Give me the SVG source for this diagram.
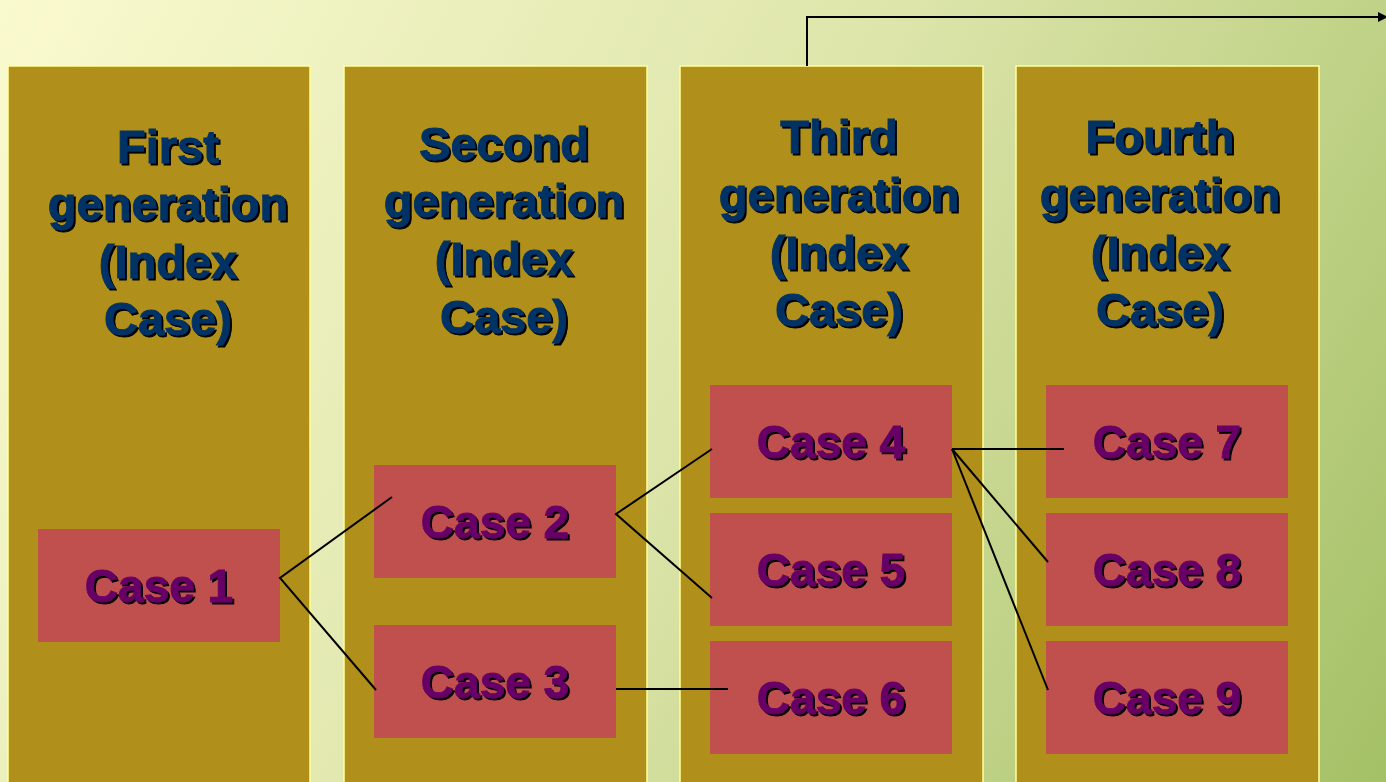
<svg xmlns="http://www.w3.org/2000/svg" width="1386" height="782" viewBox="0 0 1386 782">
  <defs>
    <linearGradient id="bg" gradientUnits="userSpaceOnUse" x1="0" y1="0" x2="1386" y2="782">
      <stop offset="0" stop-color="#FAFACF"/>
      <stop offset="0.5" stop-color="#DDE5AA"/>
      <stop offset="1" stop-color="#A4C066"/>
    </linearGradient>
    <filter id="shadow" x="-10%" y="-10%" width="130%" height="130%">
      <feDropShadow dx="2" dy="2" stdDeviation="0" flood-color="#000" flood-opacity="1"/>
    </filter>
    <marker id="arrow" markerWidth="10" markerHeight="10" refX="6" refY="5" orient="auto" markerUnits="userSpaceOnUse">
      <path d="M0,0 L10,5 L0,10 Z" fill="#000"/>
    </marker>
    <style>
      .col { fill: #B08F1A; stroke: #FFFF99; stroke-width: 1.5; }
      .box { fill: #C0504D; }
      .head { font-family: "Liberation Sans", Arial, sans-serif; font-weight: bold; font-size: 47px; fill: #003366; stroke: #003366; stroke-width: 0.9; text-anchor: middle; filter: url(#shadow); }
      .case { font-family: "Liberation Sans", Arial, sans-serif; font-weight: bold; font-size: 46px; fill: #660066; stroke: #660066; stroke-width: 0.9; text-anchor: middle; filter: url(#shadow); }
      .link { fill: none; stroke: #000; stroke-width: 2; }
    </style>
  </defs>

  <rect x="0" y="0" width="1386" height="782" fill="url(#bg)"/>

  <!-- generation columns -->
  <g id="gen1">
    <rect class="col" x="8" y="66" width="302" height="730"/>
    <text class="head" x="168" y="163">First</text>
    <text class="head" x="168" y="220">generation</text>
    <text class="head" x="168" y="278">(Index</text>
    <text class="head" x="168" y="335">Case)</text>
  </g>
  <g id="gen2">
    <rect class="col" x="344" y="66" width="303" height="730"/>
    <text class="head" x="504" y="160">Second</text>
    <text class="head" x="504" y="217">generation</text>
    <text class="head" x="504" y="275">(Index</text>
    <text class="head" x="504" y="333">Case)</text>
  </g>
  <g id="gen3">
    <rect class="col" x="680" y="66" width="303" height="730"/>
    <text class="head" x="839" y="153">Third</text>
    <text class="head" x="839" y="211">generation</text>
    <text class="head" x="839" y="269">(Index</text>
    <text class="head" x="839" y="326">Case)</text>
  </g>
  <g id="gen4">
    <rect class="col" x="1016" y="66" width="303" height="730"/>
    <text class="head" x="1160" y="153">Fourth</text>
    <text class="head" x="1160" y="211">generation</text>
    <text class="head" x="1160" y="269">(Index</text>
    <text class="head" x="1160" y="326">Case)</text>
  </g>

  <!-- cases -->
  <g id="case1"><rect class="box" x="38" y="529" width="242" height="113"/><text class="case" x="159" y="602">Case 1</text></g>
  <g id="case2"><rect class="box" x="374" y="465" width="242" height="113"/><text class="case" x="495" y="538">Case 2</text></g>
  <g id="case3"><rect class="box" x="374" y="625" width="242" height="113"/><text class="case" x="495" y="698">Case 3</text></g>
  <g id="case4"><rect class="box" x="710" y="385" width="242" height="113"/><text class="case" x="831" y="458">Case 4</text></g>
  <g id="case5"><rect class="box" x="710" y="513" width="242" height="113"/><text class="case" x="831" y="586">Case 5</text></g>
  <g id="case6"><rect class="box" x="710" y="641" width="242" height="113"/><text class="case" x="831" y="714">Case 6</text></g>
  <g id="case7"><rect class="box" x="1046" y="385" width="242" height="113"/><text class="case" x="1167" y="458">Case 7</text></g>
  <g id="case8"><rect class="box" x="1046" y="513" width="242" height="113"/><text class="case" x="1167" y="586">Case 8</text></g>
  <g id="case9"><rect class="box" x="1046" y="641" width="242" height="113"/><text class="case" x="1167" y="714">Case 9</text></g>

  <!-- transmission links -->
  <g id="connectors">
    <polyline class="link" points="392,497 280,578 376,690"/>
    <polyline class="link" points="712,449 616,514 712,598"/>
    <line class="link" x1="616" y1="689" x2="728" y2="689"/>
    <line class="link" x1="952" y1="449" x2="1064" y2="449"/>
    <line class="link" x1="952" y1="449" x2="1048" y2="562"/>
    <line class="link" x1="952" y1="449" x2="1048" y2="690"/>
    <polyline class="link" points="807,66 807,17 1384,17" marker-end="url(#arrow)"/>
  </g>
</svg>
